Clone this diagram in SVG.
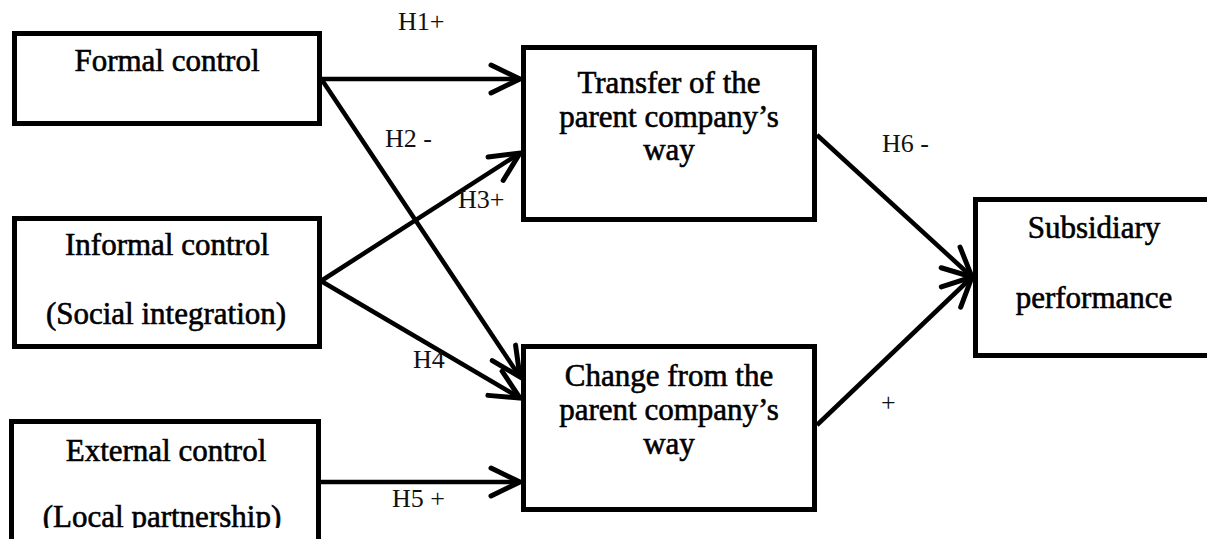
<svg xmlns="http://www.w3.org/2000/svg" width="1207" height="539" viewBox="0 0 1207 539">
  <style>
    .box { fill: #ffffff; stroke: #000000; stroke-width: 5; }
    .node-text { font-family: "Liberation Serif", "Times New Roman", serif; font-size: 31px; fill: #000000; stroke: #000000; stroke-width: 0.6; text-anchor: middle; }
    .edge { fill: none; stroke: #000000; stroke-width: 4.5; marker-end: url(#arrow); }
    .edge-label { font-family: "Liberation Serif", "Times New Roman", serif; font-size: 26px; fill: #111111; }
  </style>
  <defs>
    <marker id="arrow" markerUnits="userSpaceOnUse" viewBox="-40 -20 45 40" refX="0" refY="0" markerWidth="45" markerHeight="40" orient="auto" overflow="visible">
      <path d="M-29,-14 L0,0 L-29,14" fill="none" stroke="#000000" stroke-width="5" stroke-linecap="round" stroke-linejoin="miter"/>
    </marker>
    <clipPath id="clipExt">
      <rect x="0" y="0" width="1207" height="528"/>
    </clipPath>
  </defs>
  <rect x="0" y="0" width="1207" height="539" fill="#ffffff"/>

  <g id="node-formal">
    <rect class="box" x="14.5" y="33.5" width="305" height="90"/>
    <text class="node-text" x="167" y="71">Formal control</text>
  </g>
  <g id="node-informal">
    <rect class="box" x="14.5" y="218.5" width="305" height="128"/>
    <text class="node-text" x="167" y="255">Informal control</text>
    <text class="node-text" x="166" y="324">(Social integration)</text>
  </g>
  <g id="node-external">
    <rect class="box" x="11.5" y="421.5" width="307" height="140"/>
    <text class="node-text" x="166" y="461">External control</text>
    <text class="node-text" x="162" y="527" clip-path="url(#clipExt)">(Local partnership)</text>
  </g>
  <g id="node-transfer">
    <rect class="box" x="523.5" y="47.5" width="291" height="172"/>
    <text class="node-text" x="669" y="93">Transfer of the</text>
    <text class="node-text" x="669" y="127">parent company’s</text>
    <text class="node-text" x="669" y="160">way</text>
  </g>
  <g id="node-change">
    <rect class="box" x="523.5" y="346.5" width="291" height="163"/>
    <text class="node-text" x="669" y="386">Change from the</text>
    <text class="node-text" x="669" y="420">parent company’s</text>
    <text class="node-text" x="669" y="454">way</text>
  </g>
  <g id="node-subsidiary">
    <rect class="box" x="975.5" y="199.5" width="240" height="156"/>
    <text class="node-text" x="1094" y="238">Subsidiary</text>
    <text class="node-text" x="1094" y="308">performance</text>
  </g>

  <g id="connectors">
    <path class="edge" d="M322,79 L520,79"/>
    <path class="edge" d="M322,80 L520,377"/>
    <path class="edge" d="M321,281 L520,153"/>
    <path class="edge" d="M321,281 L520,398"/>
    <path class="edge" d="M321,482 L520,482"/>
    <path class="edge" d="M817,135 L972,277"/>
    <path class="edge" d="M817,425 L972,277"/>
  </g>

  <g id="edge-labels">
    <text class="edge-label" x="398" y="30">H1+</text>
    <text class="edge-label" x="385" y="147">H2 -</text>
    <text class="edge-label" x="458" y="208">H3+</text>
    <text class="edge-label" x="413" y="368">H4</text>
    <text class="edge-label" x="392" y="507">H5 +</text>
    <text class="edge-label" x="882" y="152">H6 -</text>
    <text class="edge-label" x="881" y="411">+</text>
  </g>
</svg>
